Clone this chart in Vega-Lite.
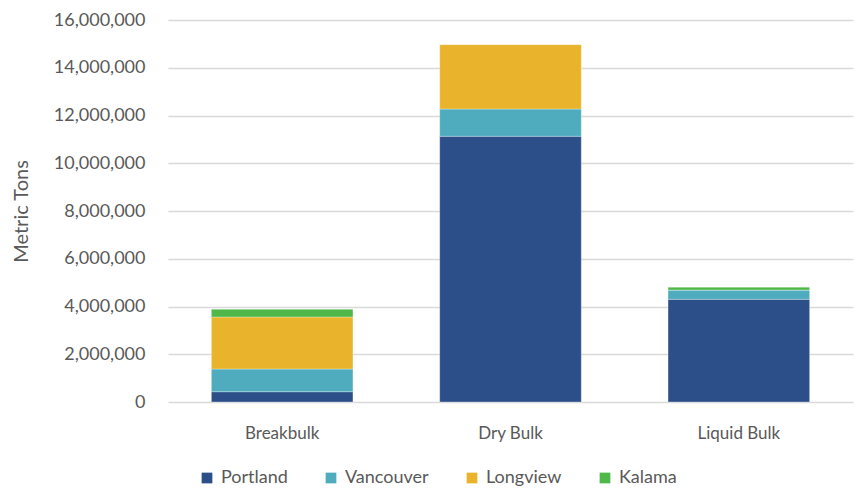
{
  "$schema": "https://vega.github.io/schema/vega-lite/v6.json",
  "width": 685,
  "height": 382,
  "autosize": {"type": "none"},
  "padding": {"left": 168, "top": 20, "right": 1, "bottom": 88},
  "background": "white",
  "data": {
    "values": [
      {"cat": "Breakbulk", "port": "Portland", "ord": 1, "tons": 430000},
      {"cat": "Breakbulk", "port": "Vancouver", "ord": 2, "tons": 950000},
      {"cat": "Breakbulk", "port": "Longview", "ord": 3, "tons": 2180000},
      {"cat": "Breakbulk", "port": "Kalama", "ord": 4, "tons": 320000},
      {"cat": "Dry Bulk", "port": "Portland", "ord": 1, "tons": 11130000},
      {"cat": "Dry Bulk", "port": "Vancouver", "ord": 2, "tons": 1140000},
      {"cat": "Dry Bulk", "port": "Longview", "ord": 3, "tons": 2700000},
      {"cat": "Dry Bulk", "port": "Kalama", "ord": 4, "tons": 0},
      {"cat": "Liquid Bulk", "port": "Portland", "ord": 1, "tons": 4300000},
      {"cat": "Liquid Bulk", "port": "Vancouver", "ord": 2, "tons": 390000},
      {"cat": "Liquid Bulk", "port": "Longview", "ord": 3, "tons": 0},
      {"cat": "Liquid Bulk", "port": "Kalama", "ord": 4, "tons": 120000}
    ]
  },
  "mark": {"type": "bar", "stroke": "white", "strokeWidth": 0.5, "strokeOpacity": 0.6},
  "encoding": {
    "x": {
      "field": "cat", "type": "nominal", "title": null,
      "scale": {"paddingInner": 0.38, "paddingOuter": 0.19},
      "axis": {"labelAngle": 0, "labelFont": "Lato", "labelFontSize": 17, "labelColor": "#595959", "labelPadding": 23, "domain": false, "ticks": false, "grid": false}
    },
    "y": {
      "field": "tons", "type": "quantitative", "stack": "zero",
      "scale": {"domain": [0, 16000000]},
      "title": "Metric Tons",
      "axis": {"values": [0, 2000000, 4000000, 6000000, 8000000, 10000000, 12000000, 14000000, 16000000], "format": ",d", "labelFont": "Lato", "labelFontSize": 18, "labelColor": "#595959", "labelPadding": 23, "domain": false, "ticks": false, "gridColor": "#d9d9d9", "gridWidth": 1.3, "titleFont": "Lato", "titleFontSize": 20, "titleFontWeight": "normal", "titleColor": "#595959", "titlePadding": 22}
    },
    "color": {
      "field": "port", "type": "nominal", "title": null,
      "scale": {"domain": ["Portland", "Vancouver", "Longview", "Kalama"], "range": ["#2c4f8a", "#4facbe", "#e9b42c", "#4fb848"]},
      "legend": {"orient": "none", "legendX": 30, "legendY": 449, "padding": 0, "direction": "horizontal", "symbolType": "square", "symbolSize": 115, "symbolStrokeWidth": 0, "labelFont": "Lato", "labelFontSize": 18, "labelColor": "#595959", "columnPadding": 34, "labelOffset": 5}
    },
    "order": {"field": "ord", "type": "quantitative"}
  },
  "config": {"view": {"stroke": null}}
}
